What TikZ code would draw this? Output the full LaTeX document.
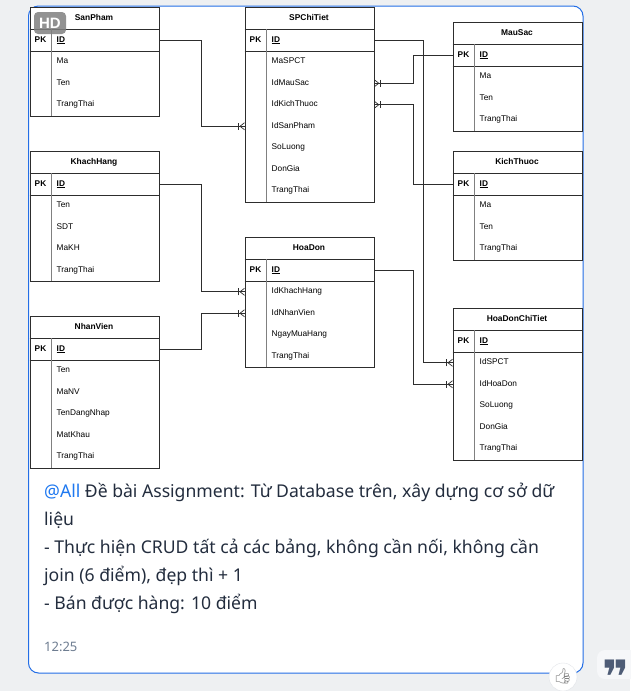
\documentclass[tikz,border=0pt]{standalone}
\usepackage{fontspec}
\setmainfont{Noto Sans}
\newfontfamily\erfont{Liberation Sans}
\newfontfamily\symfont{DejaVu Sans}
\newfontfamily\emojifont{Noto Emoji}
\usetikzlibrary{decorations.markings}

\definecolor{pagebg}{RGB}{238,240,242}
\definecolor{cardline}{RGB}{35,110,230}
\definecolor{mention}{RGB}{30,120,240}
\definecolor{msgcolor}{RGB}{35,45,62}
\definecolor{timecolor}{RGB}{110,125,145}
\definecolor{erline}{RGB}{45,45,45}
\definecolor{quotecolor}{RGB}{78,92,118}
\definecolor{quotebg}{RGB}{246,247,249}
\definecolor{likeline}{RGB}{225,228,232}

% one table of the diagram: name, title, left, top, number of fields, fields
\newcommand{\ertable}[6]{%
  \node[tblbox, minimum height={44pt+21.5pt*#5}] (#1) at (#3,#4) {};
  \node[tbltitle] (#1-title) at (#3+64.5,#4+11) {#2};
  \draw[tblline] (#3,#4+22) -- ++(129,0);
  \draw[tblline] (#3,#4+44) -- ++(129,0);
  \draw[divline] (#3+22,#4+22) -- ++(0,22+21.5*#5);
  \node[tblkey] (#1-pk) at (#3+11,#4+33) {PK};
  \node[fieldcell, font=\erfont\bfseries\fontsize{8.3}{10}\selectfont] (#1-id) at (#3+27,#4+33) {\underline{ID}};
  \foreach \f [count=\i] in {#6}
    \node[fieldcell] (#1-\f) at (#3+27,#4+33.25+21.5*\i) {\f};
}

\begin{document}
\begin{tikzpicture}[x=1pt, y=-1pt,
    tblbox/.style={draw=erline, line width=0.8pt, fill=white, anchor=north west,
      inner sep=0pt, minimum width=129pt},
    tblline/.style={draw=erline, line width=0.8pt},
    divline/.style={draw=gray, line width=0.8pt},
    tbltitle/.style={font=\erfont\bfseries\fontsize{8.4}{10}\selectfont, inner sep=0pt,
      text height=6.2pt, text depth=1.8pt},
    tblkey/.style={font=\erfont\bfseries\fontsize{8.3}{10}\selectfont, inner sep=0pt,
      text height=6.2pt, text depth=1.8pt},
    fieldcell/.style={anchor=west, inner sep=0pt, font=\erfont\fontsize{8.3}{10}\selectfont,
      text height=6.2pt, text depth=1.8pt},
    relline/.style={draw=erline, line width=0.8pt},
    crowfoot/.style={postaction={decorate, decoration={markings,
      mark=at position 1 with {\draw[erline, line width=0.7pt] (-6pt,-3.5pt) -- (-6pt,3.5pt);
        \draw[erline, line width=0.7pt] (0pt,3.5pt) -- (-4.5pt,0pt) -- (0pt,-3.5pt);}}}},
    msgtext/.style={anchor=base west, inner sep=0pt, text=msgcolor,
      font=\fontsize{17.6}{20}\selectfont}]

  \useasboundingbox (0,0) rectangle (630,691);
  \fill[pagebg] (0,0) rectangle (630,691);

  % message card
  \draw[cardline, fill=white, line width=1pt, rounded corners=10pt] (28.5,6) rectangle (583,673);

  % tables
  \ertable{sp}{SanPham}{29.5}{7}{3}{Ma,Ten,TrangThai}
  \ertable{spct}{SPChiTiet}{244.5}{7}{7}{MaSPCT,IdMauSac,IdKichThuoc,IdSanPham,SoLuong,DonGia,TrangThai}
  \ertable{ms}{MauSac}{452.5}{22}{3}{Ma,Ten,TrangThai}
  \ertable{kt}{KichThuoc}{452.5}{151}{3}{Ma,Ten,TrangThai}
  \ertable{kh}{KhachHang}{29.5}{151}{4}{Ten,SDT,MaKH,TrangThai}
  \ertable{hd}{HoaDon}{244.5}{237}{4}{IdKhachHang,IdNhanVien,NgayMuaHang,TrangThai}
  \ertable{nv}{NhanVien}{29.5}{316}{5}{Ten,MaNV,TenDangNhap,MatKhau,TrangThai}
  \ertable{hdct}{HoaDonChiTiet}{452.5}{308}{5}{IdSPCT,IdHoaDon,SoLuong,DonGia,TrangThai}

  % relations
  \draw[relline, crowfoot] (sp.east |- sp-id) -- ++(42.5,0) |- (spct.west |- spct-IdSanPham);
  \draw[relline, crowfoot] (spct.east |- spct-id) -- ++(49.5,0) |- (hdct.west |- hdct-IdSPCT);
  \draw[relline, crowfoot] (ms.west |- ms-id) -- ++(-39.5,0) |- (spct.east |- spct-IdMauSac);
  \draw[relline, crowfoot] (kt.west |- kt-id) -- ++(-39.5,0) |- (spct.east |- spct-IdKichThuoc);
  \draw[relline, crowfoot] (hd.east |- hd-id) -- ++(39.5,0) |- (hdct.west |- hdct-IdHoaDon);
  \draw[relline, crowfoot] (kh.east |- kh-id) -- ++(42.5,0) |- (hd.west |- hd-IdKhachHang);
  \draw[relline, crowfoot] (nv.east |- nv-id) -- ++(42.5,0) |- (hd.west |- hd-IdNhanVien);

  % HD badge
  \fill[gray, opacity=0.85, rounded corners=4pt] (34,12) rectangle (66,34);
  \node[text=white, font=\erfont\bfseries\fontsize{15}{16}\selectfont, inner sep=0pt] (hdbadge) at (50,23) {HD};

  % message text
  \node[msgtext] (line1) at (44,497) {\textcolor{mention}{@All} Đề bài Assignment: Từ Database trên, xây dựng cơ sở dữ};
  \node[msgtext] (line2) at (44,525) {liệu};
  \node[msgtext] (line3) at (44,553) {- Thực hiện CRUD tất cả các bảng, không cần nối, không cần};
  \node[msgtext] (line4) at (44,581) {join (6 điểm), đẹp thì + 1};
  \node[msgtext] (line5) at (44,609) {- Bán được hàng: 10 điểm};
  \node[anchor=base west, inner sep=0pt, text=timecolor, font=\fontsize{13}{15}\selectfont] (time) at (44,651) {12:25};

  % reaction and quote buttons
  \draw[fill=white, draw=likeline] (563,677) circle (14);
  \node[text=gray, font=\emojifont\fontsize{15}{16}\selectfont, inner sep=0pt] (like) at (563,676) {👍};
  \fill[quotebg, rounded corners=8pt] (597,650) rectangle (645,679);
  \node[text=quotecolor, font=\symfont\bfseries\fontsize{46}{46}\selectfont, inner sep=0pt] (quote) at (616,665) {\raisebox{-20pt}[16pt][0pt]{❞}};
\end{tikzpicture}
\end{document}
